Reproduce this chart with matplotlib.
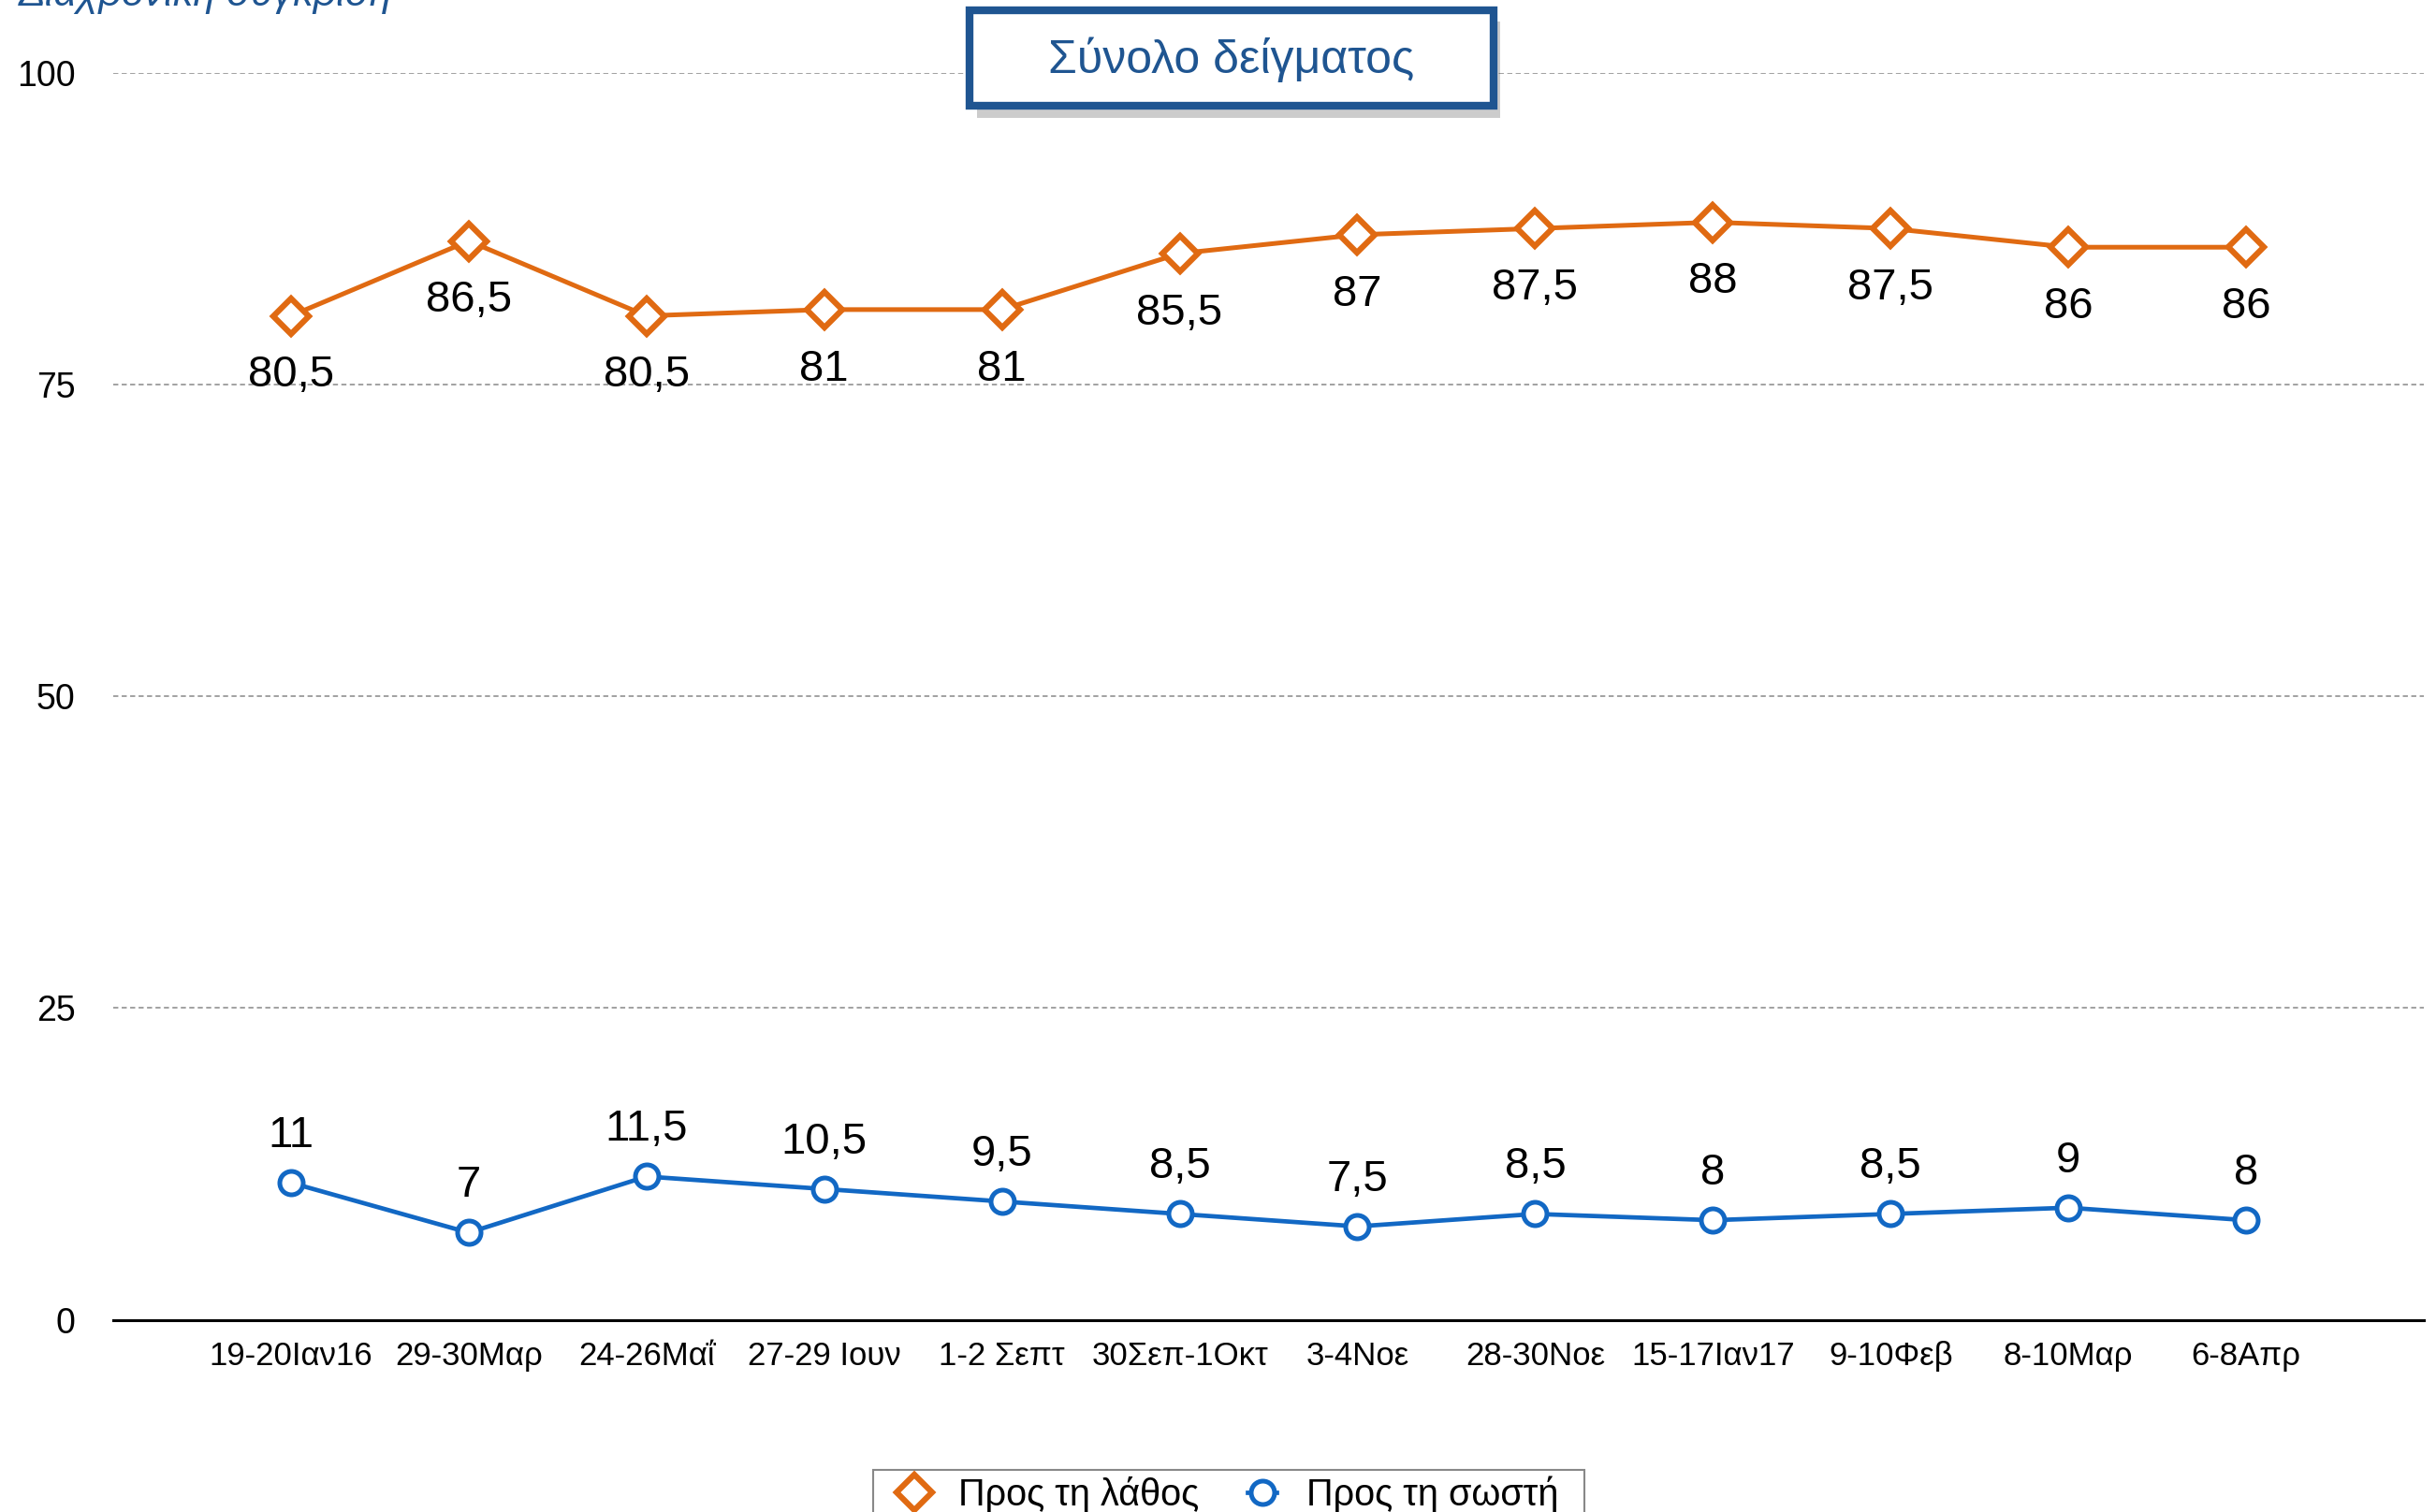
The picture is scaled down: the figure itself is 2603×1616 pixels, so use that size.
import matplotlib.pyplot as plt
from matplotlib.patches import Rectangle

periods = ["19-20Ιαν16", "29-30Μαρ", "24-26Μαΐ", "27-29 Ιουν", "1-2 Σεπτ", "30Σεπ-1Οκτ",
           "3-4Νοε", "28-30Νοε", "15-17Ιαν17", "9-10Φεβ", "8-10Μαρ", "6-8Απρ"]
wrong = [80.5, 86.5, 80.5, 81, 81, 85.5, 87, 87.5, 88, 87.5, 86, 86]
right = [11, 7, 11.5, 10.5, 9.5, 8.5, 7.5, 8.5, 8, 8.5, 9, 8]
yticks = [0, 25, 50, 75, 100]

orange = "#E06A12"
blue = "#1268C4"
navy = "#1F5591"

plt.rcParams['font.family'] = ['Liberation Sans', 'DejaVu Sans']

fig = plt.figure(figsize=(26.03, 16.16), dpi=100)
ax = fig.add_axes([0.0465, 0.127, 0.9485, 0.825])

x = list(range(len(periods)))
ax.plot(x, wrong, color=orange, lw=3.6, marker='D', markersize=19, markeredgewidth=4.5,
        markerfacecolor='white', markeredgecolor=orange, label="Προς τη λάθος", clip_on=False, zorder=3)
ax.plot(x, right, color=blue, lw=3.4, marker='o', markersize=18, markeredgewidth=3.6,
        markerfacecolor='white', markeredgecolor=blue, label="Προς τη σωστή", clip_on=False, zorder=3)

def fmt(v):
    return ("%g" % v).replace('.', ',')

for xi, v in zip(x, wrong):
    ax.annotate(fmt(v), (xi, v), xytext=(0, -46), textcoords='offset points',
                ha='center', va='center', fontsize=34, color='black')
for xi, v in zip(x, right):
    ax.annotate(fmt(v), (xi, v), xytext=(0, 36), textcoords='offset points',
                ha='center', va='center', fontsize=34, color='black')

ax.set_xlim(-1, 12)
ax.set_ylim(0, 100)
ax.set_yticks(yticks)
ax.set_yticklabels([str(t) for t in yticks])
ax.set_xticks(x)
ax.set_xticklabels(periods)
ax.tick_params(axis='y', length=0, pad=29, labelsize=27)
ax.tick_params(axis='x', length=0, pad=16, labelsize=25)
for t in ax.get_yticklabels():
    t.set_horizontalalignment('right')

ax.yaxis.grid(True, color='#9a9a9a', linestyle=(0, (3, 2)), lw=1.3)
ax.set_axisbelow(True)
for s in ['left', 'right', 'top']:
    ax.spines[s].set_visible(False)
ax.spines['bottom'].set_linewidth(2.2)
ax.spines['bottom'].set_color('black')

# legend: frameless, with a wider box drawn behind it
fig.legend(loc='upper center', bbox_to_anchor=(0.5045, 0.0265), ncol=2, fontsize=28.5,
           frameon=False, handlelength=0.8, columnspacing=1.3, handletextpad=0.8,
           borderpad=0.1, borderaxespad=0)
fig.patches.append(Rectangle((0.3585, -0.02), 0.292, 0.0478, transform=fig.transFigure,
                             facecolor='white', edgecolor='#888888', lw=1.5, zorder=0))

# title box with shadow
fig.patches.append(Rectangle((0.401, 0.922), 0.215, 0.064, transform=fig.transFigure,
                             facecolor='#00000033', edgecolor='none', zorder=4))
fig.patches.append(Rectangle((0.398, 0.93), 0.215, 0.063, transform=fig.transFigure,
                             facecolor='white', edgecolor=navy, lw=6, zorder=5))
fig.text(0.5055, 0.9605, "Σύνολο δείγματος", ha='center', va='center', fontsize=36,
         color=navy, zorder=6)

fig.text(0.0077, 0.9963, "Διαχρονική σύγκριση", ha='left', va='baseline', fontsize=31,
         color=navy, style='italic')

fig.savefig("out.png", dpi=100)
